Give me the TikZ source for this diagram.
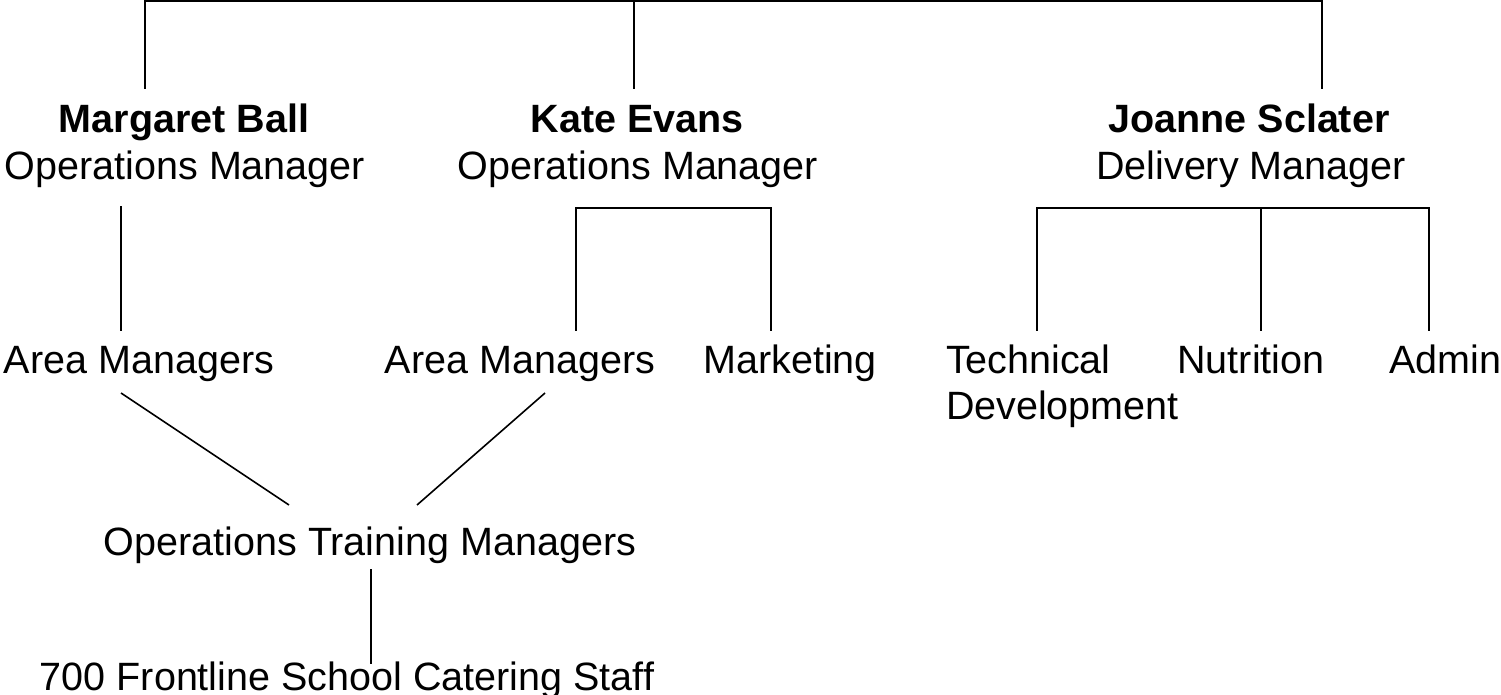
\documentclass[tikz,border=0pt]{standalone}
\usepackage{fontspec}
\setmainfont{Liberation Sans}
\begin{document}
\begin{tikzpicture}[x=1pt,y=-1pt,
  lbl/.style={anchor=base,inner sep=0pt,outer sep=0pt,font=\fontsize{39.5}{47}\selectfont},
  bold/.style={lbl,font=\fontsize{39.5}{47}\selectfont\bfseries},
  conn/.style={line width=2pt,line cap=rect},
  diag/.style={line width=1.6pt}]
\useasboundingbox (0,0) rectangle (1501,695);
% top level
\coordinate (tl) at (145,1.5);
\coordinate (tm) at (634,1.5);
\coordinate (tr) at (1322,1.5);
\coordinate (mbt) at (145,88);
\coordinate (ket) at (634,88);
\coordinate (jst) at (1322,88);
\draw[conn] (mbt) -- (tl) -- (tr) -- (jst);
\draw[conn] (tm) -- (ket);
% managers
\node[bold] (mbname) at (184,133) {Margaret Ball};
\node[lbl] (mbtitle) at (185,180) {Operations Manager};
\node[bold] (kename) at (637,133) {Kate Evans};
\node[lbl] (ketitle) at (638,180) {Operations Manager};
\node[bold] (jsname) at (1249,133) {Joanne Sclater};
\node[lbl] (jstitle) at (1251,180) {Delivery Manager};
% second row
\node[lbl] (am1) at (139,373) {Area Managers};
\node[lbl] (am2) at (520,373) {Area Managers};
\node[lbl] (mkt) at (790,373) {Marketing};
\node[lbl,anchor=base west] (tech1) at (946,373) {Technical};
\node[lbl,anchor=base west] (tech2) at (946,419) {Development};
\node[lbl] (nut) at (1251,373) {Nutrition};
\node[lbl] (adm) at (1445,373) {Admin};
% Margaret down
\coordinate (mbb) at (121,207);
\coordinate (am1t) at (121,330);
\draw[conn] (mbb) -- (am1t);
% Kate bracket
\coordinate (keb1) at (576,208);
\coordinate (keb2) at (771,208);
\coordinate (am2t) at (576,330);
\coordinate (mktt) at (771,330);
\draw[conn] (am2t) -- (keb1) -- (keb2) -- (mktt);
% Joanne bracket
\coordinate (jsb1) at (1037,208);
\coordinate (jsb2) at (1261,208);
\coordinate (jsb3) at (1429,208);
\coordinate (techt) at (1037,330);
\coordinate (nutt) at (1261,330);
\coordinate (admt) at (1429,330);
\draw[conn] (techt) -- (jsb1) -- (jsb3) -- (admt);
\draw[conn] (jsb2) -- (nutt);
% OTM
\node[lbl] (otm) at (370,555) {Operations Training Managers};
\coordinate (am1b) at (121,393);
\coordinate (otml) at (289,505);
\coordinate (am2b) at (545,393);
\coordinate (otmr) at (417,505);
\draw[diag] (am1b) -- (otml);
\draw[diag] (am2b) -- (otmr);
% staff
\node[lbl] (staff) at (347,690) {700 Frontline School Catering Staff};
\coordinate (otmb) at (371,569);
\coordinate (stafft) at (371,664);
\draw[diag] (otmb) -- (stafft);
\end{tikzpicture}
\end{document}
